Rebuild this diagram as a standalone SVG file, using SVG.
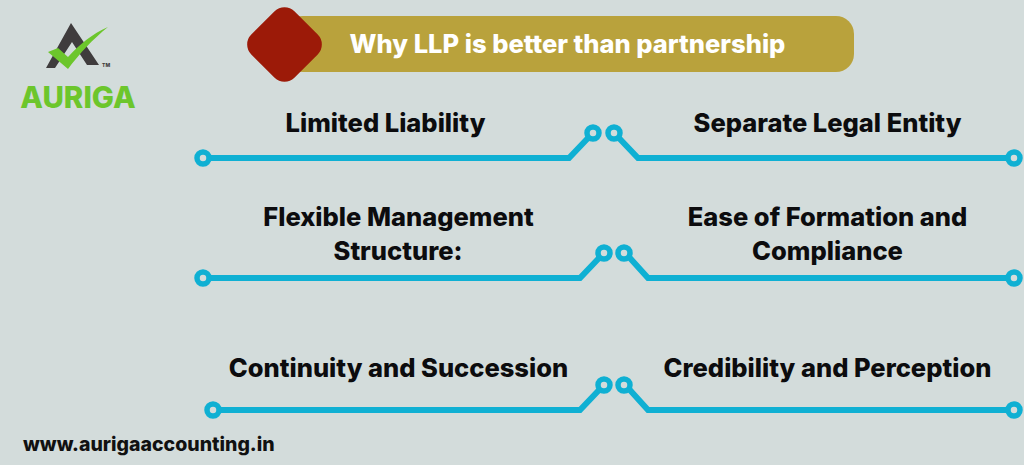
<svg xmlns="http://www.w3.org/2000/svg" width="1024" height="465" viewBox="0 0 1024 465">
<style>
text{font-family:Inter,"Liberation Sans",sans-serif;font-weight:800}
.t{font-size:25.500px;fill:#0c0c0e;text-anchor:middle}
.l{fill:none;stroke:#0fb0d3;stroke-width:6}
.d{fill:#d3dcdb;stroke:#0fb0d3;stroke-width:5.5}
</style>
<rect width="1024" height="465" fill="#d3dcdb"/>
<g id="logo">
<path d="M46 68 L71 23 L99 65 L87 65 L72 42 L55 68Z" fill="#3f3c3d"/>
<path d="M48 52 L58 48 L68 57 C80 44 92 34 108 27 C93 39 80 53 68 69Z" fill="#6cc62c"/>
<text x="102" y="67" font-size="5" fill="#3f3c3d">TM</text>
<text x="78" y="108" font-size="29.500" fill="#6cc62c" text-anchor="middle">AURIGA</text>
</g>
<g id="title">
<rect x="285" y="16" width="569" height="56" rx="18" fill="#b9a23c"/>
<rect x="254" y="14" width="61" height="61" rx="14" fill="#9c1a08" transform="rotate(45 284.500 44.500)"/>
<text x="567.500" y="53" font-size="25.500" fill="#fff" text-anchor="middle">Why LLP is better than partnership</text>
</g>
<g id="connectors">
<path class="l" d="M207 158H569L589 137"/><path class="l" d="M618 137L638 158H1010"/>
<path class="l" d="M207 278H580L600 257"/><path class="l" d="M629 257L648 278H1010"/>
<path class="l" d="M218 410H580L600 389"/><path class="l" d="M629 389L648 410H1010"/>
<circle class="d" cx="203" cy="158" r="6"/><circle class="d" cx="593" cy="133" r="6"/><circle class="d" cx="614" cy="133" r="6"/><circle class="d" cx="1014" cy="158" r="6"/>
<circle class="d" cx="203" cy="278" r="6"/><circle class="d" cx="604" cy="253" r="6"/><circle class="d" cx="624" cy="253" r="6"/><circle class="d" cx="1014" cy="278" r="6"/>
<circle class="d" cx="213" cy="410" r="6"/><circle class="d" cx="604" cy="385" r="6"/><circle class="d" cx="624" cy="385" r="6"/><circle class="d" cx="1014" cy="410" r="6"/>
</g>
<g id="n1"><text class="t" x="385.500" y="132">Limited Liability</text></g>
<g id="n2"><text class="t" x="827.500" y="132">Separate Legal Entity</text></g>
<g id="n3"><text class="t" x="398.500" y="226">Flexible Management</text><text class="t" x="398" y="260">Structure:</text></g>
<g id="n4"><text class="t" x="827.500" y="226">Ease of Formation and</text><text class="t" x="827.500" y="260">Compliance</text></g>
<g id="n5"><text class="t" x="398.500" y="377">Continuity and Succession</text></g>
<g id="n6"><text class="t" x="827.500" y="377">Credibility and Perception</text></g>
<text id="url" x="23" y="451" font-size="19.500" fill="#111">www.aurigaaccounting.in</text>
</svg>
